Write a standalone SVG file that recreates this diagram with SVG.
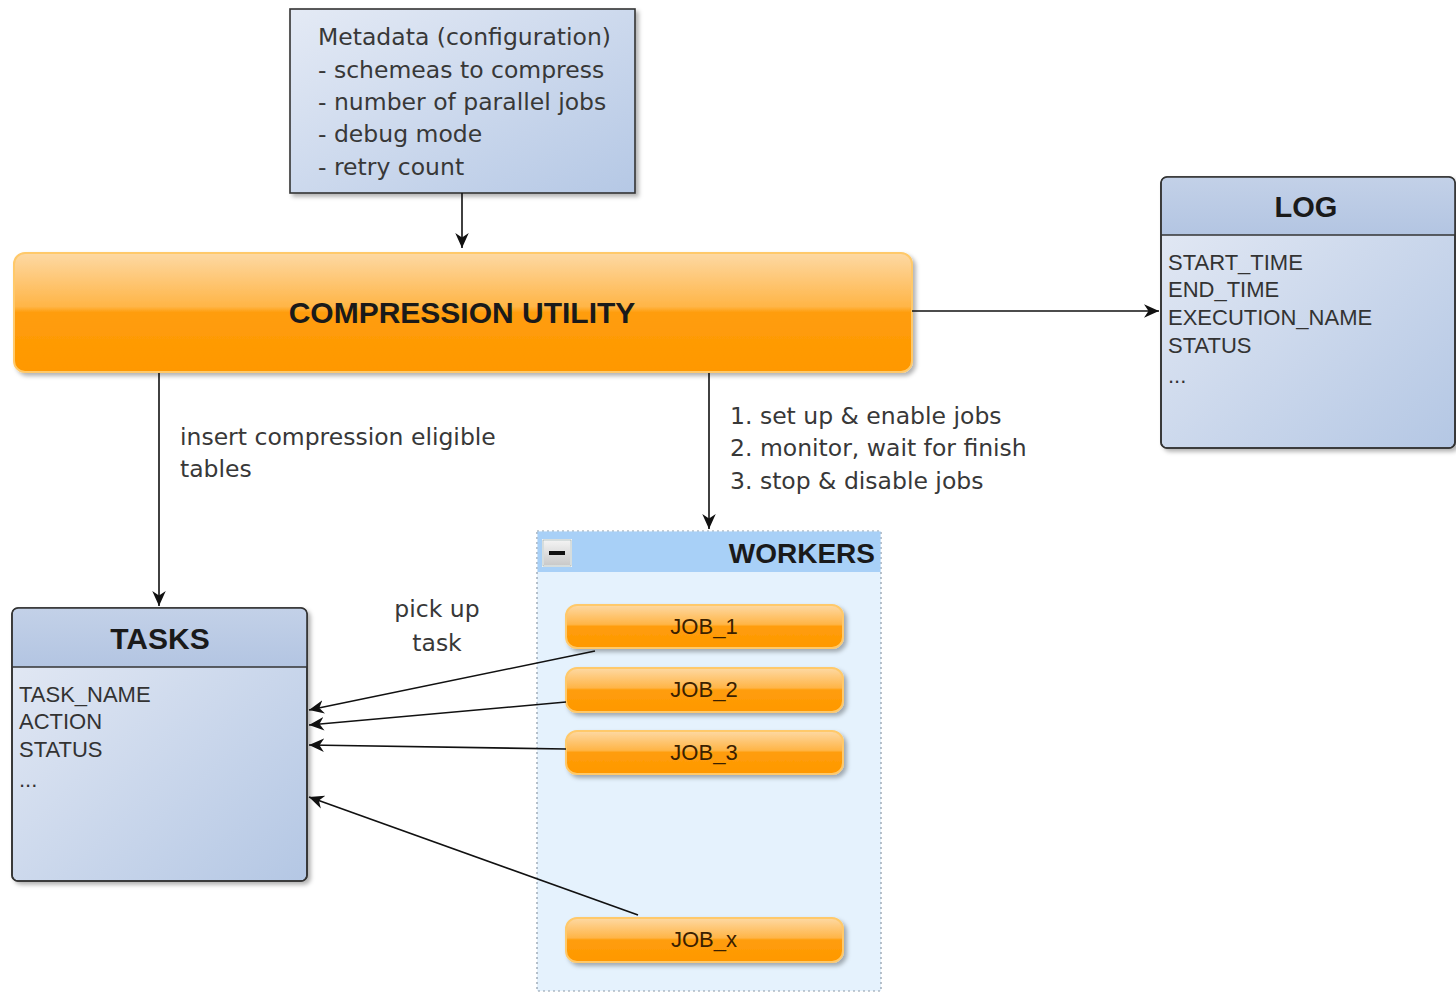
<svg xmlns="http://www.w3.org/2000/svg" width="1456" height="993" viewBox="0 0 1456 993">
  <defs>
    <linearGradient id="tableBody" x1="0" y1="0" x2="1" y2="1">
      <stop offset="0" stop-color="#e6ebf5"/>
      <stop offset="1" stop-color="#b4c7e4"/>
    </linearGradient>
    <linearGradient id="tableHead" x1="0" y1="0" x2="0" y2="1">
      <stop offset="0" stop-color="#c3d1e8"/>
      <stop offset="1" stop-color="#b3c5e2"/>
    </linearGradient>
    <linearGradient id="noteFill" x1="0" y1="0" x2="1" y2="1">
      <stop offset="0" stop-color="#e4eaf5"/>
      <stop offset="1" stop-color="#b5c8e5"/>
    </linearGradient>
    <linearGradient id="glossy" x1="0" y1="0" x2="0" y2="1">
      <stop offset="0" stop-color="#fdd9a4"/>
      <stop offset="0.45" stop-color="#ffb547"/>
      <stop offset="0.5" stop-color="#ff9d0b"/>
      <stop offset="1" stop-color="#ff9800"/>
    </linearGradient>
    <linearGradient id="minusFill" x1="0" y1="0" x2="0" y2="1">
      <stop offset="0" stop-color="#f4f4f4"/>
      <stop offset="1" stop-color="#c8c8c8"/>
    </linearGradient>
    <filter id="shadow" x="-10%" y="-10%" width="125%" height="130%">
      <feDropShadow dx="3" dy="3" stdDeviation="2" flood-color="#000" flood-opacity="0.3"/>
    </filter>
    <marker id="arrow" viewBox="0 0 10 10" refX="10" refY="5" markerWidth="15" markerHeight="15" markerUnits="userSpaceOnUse" orient="auto">
      <path d="M0,0.5 L10,5 L0,9.5 L3,5 z" fill="#111"/>
    </marker>
  </defs>
  <style>
    .edge { stroke: #111; stroke-width: 1.6; fill: none; marker-end: url(#arrow); }
    .label { font-family: "DejaVu Sans", sans-serif; font-size: 23.5px; fill: #383838; }
    .head { font-family: "Liberation Sans", Arial, sans-serif; font-weight: bold; fill: #1a1a1a; text-anchor: middle; }
    .field { font-family: "Liberation Sans", Arial, sans-serif; font-size: 22px; fill: #333; }
    .job { font-family: "Liberation Sans", Arial, sans-serif; font-size: 22px; fill: #3a2000; text-anchor: middle; }
    .tableBox { fill: url(#tableBody); stroke: #333; stroke-width: 1.6; }
    .glossy { fill: url(#glossy); stroke: #ffc96a; stroke-width: 2; }
  </style>

  <rect width="1456" height="993" fill="#ffffff"/>

  <!-- configuration note -->
  <g id="metadata">
    <rect x="290" y="9" width="345" height="184" fill="url(#noteFill)" stroke="#333" stroke-width="1.6" filter="url(#shadow)"/>
    <text class="label" x="318" y="45">Metadata (configuration)</text>
    <text class="label" x="318" y="77.5">- schemeas to compress</text>
    <text class="label" x="318" y="110">- number of parallel jobs</text>
    <text class="label" x="318" y="142">- debug mode</text>
    <text class="label" x="318" y="174.5">- retry count</text>
  </g>

  <!-- main utility -->
  <g id="compression-utility">
    <rect class="glossy" x="14" y="253" width="898" height="119" rx="11" filter="url(#shadow)"/>
    <text class="head" x="462" y="323" font-size="30">COMPRESSION UTILITY</text>
  </g>

  <!-- log table -->
  <g id="log">
    <rect class="tableBox" x="1161" y="177" width="294" height="271" rx="6" filter="url(#shadow)"/>
    <path d="M1161.8,235 V183 a6,6 0 0 1 6,-6 H1449 a6,6 0 0 1 6,6 V235 z" fill="url(#tableHead)"/>
    <rect x="1161" y="177" width="294" height="271" rx="6" fill="none" stroke="#333" stroke-width="1.6"/>
    <line x1="1161" y1="235" x2="1455" y2="235" stroke="#333" stroke-width="1.6"/>
    <text class="head" x="1306" y="217" font-size="29">LOG</text>
    <text class="field" x="1168" y="270">START_TIME</text>
    <text class="field" x="1168" y="297">END_TIME</text>
    <text class="field" x="1168" y="325">EXECUTION_NAME</text>
    <text class="field" x="1168" y="353">STATUS</text>
    <text class="field" x="1168" y="383" font-size="14">...</text>
  </g>

  <!-- tasks table -->
  <g id="tasks">
    <rect class="tableBox" x="12" y="608" width="295" height="273" rx="6" filter="url(#shadow)"/>
    <path d="M12.8,667 V614 a6,6 0 0 1 6,-6 H301 a6,6 0 0 1 6,6 V667 z" fill="url(#tableHead)"/>
    <rect x="12" y="608" width="295" height="273" rx="6" fill="none" stroke="#333" stroke-width="1.6"/>
    <line x1="12" y1="667" x2="307" y2="667" stroke="#333" stroke-width="1.6"/>
    <text class="head" x="160" y="649" font-size="30">TASKS</text>
    <text class="field" x="19" y="702">TASK_NAME</text>
    <text class="field" x="19" y="729">ACTION</text>
    <text class="field" x="19" y="757">STATUS</text>
    <text class="field" x="19" y="787" font-size="14">...</text>
  </g>

  <!-- worker pool container -->
  <g id="workers">
    <rect x="537" y="531" width="344" height="460" fill="#e5f2fd" stroke="#8c9aa8" stroke-width="1.2" stroke-dasharray="2,3"/>
    <rect x="537.6" y="531.6" width="342.8" height="40.4" fill="#a8d0f7"/>
    <rect x="543" y="540" width="28" height="26" fill="url(#minusFill)" stroke="#ffffff" stroke-width="2"/>
    <rect x="543" y="540" width="28" height="26" fill="none" stroke="#9aa" stroke-width="0.8"/>
    <rect x="549" y="551" width="16" height="4" fill="#111"/>
    <text class="head" x="875" y="563" font-size="28" style="text-anchor:end">WORKERS</text>
  </g>

  <g id="job-1">
    <rect class="glossy" x="566" y="605" width="277" height="43" rx="11" filter="url(#shadow)"/>
    <text class="job" x="704" y="634">JOB_1</text>
  </g>
  <g id="job-2">
    <rect class="glossy" x="566" y="668" width="277" height="44" rx="11" filter="url(#shadow)"/>
    <text class="job" x="704" y="697">JOB_2</text>
  </g>
  <g id="job-3">
    <rect class="glossy" x="566" y="731" width="277" height="43" rx="11" filter="url(#shadow)"/>
    <text class="job" x="704" y="760">JOB_3</text>
  </g>
  <g id="job-x">
    <rect class="glossy" x="566" y="918" width="277" height="44" rx="11" filter="url(#shadow)"/>
    <text class="job" x="704" y="947">JOB_x</text>
  </g>

  <!-- connectors -->
  <g id="connectors">
    <line class="edge" x1="462" y1="193" x2="462" y2="248"/>
    <line class="edge" x1="912" y1="311" x2="1159" y2="311"/>
    <line class="edge" x1="159" y1="373" x2="159" y2="606"/>
    <line class="edge" x1="709" y1="373" x2="709" y2="529"/>
    <line class="edge" x1="595" y1="651" x2="309" y2="710"/>
    <line class="edge" x1="566" y1="702" x2="309" y2="725"/>
    <line class="edge" x1="566" y1="749" x2="309" y2="745"/>
    <line class="edge" x1="638" y1="915" x2="309" y2="797"/>
    <text class="label" x="180" y="445">insert compression eligible</text>
    <text class="label" x="180" y="477">tables</text>
    <text class="label" x="730" y="424">1. set up &amp; enable jobs</text>
    <text class="label" x="730" y="456">2. monitor, wait for finish</text>
    <text class="label" x="730" y="489">3. stop &amp; disable jobs</text>
    <text class="label" x="437" y="617" text-anchor="middle">pick up</text>
    <text class="label" x="437" y="651" text-anchor="middle">task</text>
  </g>
</svg>
